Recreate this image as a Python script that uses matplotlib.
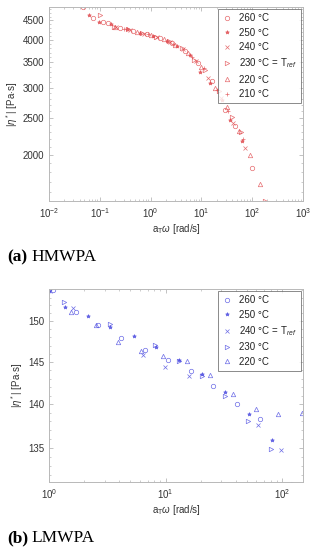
import numpy as np
import matplotlib
matplotlib.use('Agg')
import matplotlib.pyplot as plt
from matplotlib.ticker import FixedLocator, NullFormatter, LogLocator

plt.rcParams['font.family'] = ['Liberation Sans', 'DejaVu Sans']
plt.rcParams['mathtext.fontset'] = 'custom'
plt.rcParams['mathtext.rm'] = 'Liberation Sans'
plt.rcParams['mathtext.it'] = 'Liberation Sans:italic'

# --- (a) HMWPA ---
hm_labels = ['260 °C', '250 °C', '240 °C', '230 °C = T$_{ref}$', '220 °C', '210 °C']
hm_markers = ['o', '*', 'x', '>', '^', '+']
hm_x = [
    [0.047, 0.074, 0.117, 0.147, 0.25, 0.46, 0.84, 1.5, 2.6, 4.8, 8.7, 16, 29, 46, 98],
    [0.06, 0.096, 0.17, 0.34, 0.62, 1.13, 2.1, 3.3, 6, 9.3, 14.8, 25.2, 36.6, 62],
    [0.21, 0.4, 0.75, 1.35, 2.4, 4.3, 7.7, 13.5, 24, 42, 73],
    [0.1, 0.19, 0.36, 0.68, 1.25, 2.3, 4.2, 7.3, 12, 22.5, 40, 60, 177],
    [0.2, 0.55, 1.0, 1.8, 3.0, 5.5, 10, 18.5, 31.5, 55.8, 91, 142],
    [0.3, 0.9, 2.8, 6.5, 11, 20, 34, 65],
]
hm_y = [
    [4870, 4560, 4440, 4435, 4290, 4225, 4140, 4045, 3925, 3735, 3480, 3115, 2620, 2375, 1854],
    [4650, 4440, 4385, 4262, 4175, 4095, 3980, 3850, 3640, 3285, 3080, 2785, 2470, 2169],
    [4310, 4240, 4150, 4060, 3950, 3790, 3520, 3180, 2820, 2430, 2082],
    [4630, 4330, 4255, 4165, 4075, 3960, 3800, 3545, 3330, 2930, 2510, 2290, 1520],
    [4316, 4200, 4115, 4010, 3880, 3690, 3405, 2990, 2676, 2315, 2000, 1680],
    [4275, 4130, 3900, 3600, 3370, 2950, 2600, 2200],
]

# --- (b) LMWPA ---
lm_labels = ['260 °C', '250 °C', '240 °C = T$_{ref}$', '230 °C', '220 °C']
lm_markers = ['o', '*', 'x', '>', '^']
lm_x = [
    [1.08, 1.69, 2.64, 4.18, 6.62, 10.4, 16.4, 25.4, 40.6, 64.5],
    [1.0, 1.37, 2.14, 3.37, 5.33, 8.3, 13.0, 20.5, 32.5, 51.5, 81.7],
    [1.02, 1.61, 6.4, 9.9, 15.8, 61.5, 97.7],
    [1.35, 3.37, 8.1, 13.0, 20.5, 32.5, 51.2, 81, 125],
    [1.56, 2.51, 3.91, 6.2, 9.6, 15.3, 24.0, 37.6, 59.5, 93, 147],
]
lm_y = [
    [154.0, 151.2, 149.5, 147.9, 146.5, 145.3, 143.9, 142.1, 140.0, 138.3],
    [153.9, 151.8, 150.7, 149.3, 148.2, 146.8, 145.2, 143.6, 141.4, 138.9, 135.9],
    [153.8, 151.7, 145.9, 144.4, 143.3, 137.6, 134.8],
    [152.5, 149.7, 147.1, 145.1, 143.3, 141.0, 138.0, 134.9, 131.0],
    [151.2, 149.5, 147.5, 146.3, 145.7, 145.1, 143.5, 141.2, 139.4, 138.8, 139.0],
]

frame_col = '#b8b8b8'
text_col = '#333333'


def style_axes(ax):
    for s in ax.spines.values():
        s.set_color(frame_col)
        s.set_linewidth(0.7)
    ax.tick_params(which='both', direction='in', top=True, right=True,
                   colors=frame_col, labelcolor=text_col, labelsize=7)
    ax.tick_params(which='major', length=3, width=0.6)
    ax.tick_params(which='minor', length=1.6, width=0.5)


def draw(ax, xs, ys, markers, labels, color, ms):
    for x, y, m, lab in zip(xs, ys, markers, labels):
        size = ms - 0.4 if m == '*' else ms
        ax.plot(x, y, linestyle='none', marker=m, markersize=size,
                markerfacecolor=color if m == '*' else 'none',
                markeredgecolor=color, markeredgewidth=0.5, color=color,
                label=lab, alpha=0.8)
    leg = ax.legend(loc='upper right', fontsize=7, frameon=True, fancybox=False,
                    edgecolor='#555555', borderaxespad=0.25, handletextpad=0.6,
                    labelspacing=0.45, borderpad=0.4, handlelength=1.2)
    leg.get_frame().set_linewidth(0.6)
    for t in leg.get_texts():
        t.set_color('#222222')


fig = plt.figure(figsize=(3.14, 5.5), dpi=100)

# top panel
ax1 = fig.add_axes([0.156, 0.6345, 0.809, 0.3527])
draw(ax1, hm_x, hm_y, hm_markers, hm_labels, '#e0484c', 3.2)
ax1.set_xscale('log')
ax1.set_yscale('log')
ax1.set_xlim(1e-2, 1e3)
ax1.set_ylim(1516, 4870)
ax1.yaxis.set_major_locator(FixedLocator([2000, 2500, 3000, 3500, 4000, 4500]))
ax1.yaxis.set_minor_locator(FixedLocator(np.arange(1600, 4900, 100)))
ax1.yaxis.set_major_formatter(matplotlib.ticker.FuncFormatter(lambda v, p: '%d' % v))
ax1.yaxis.set_minor_formatter(NullFormatter())
ax1.xaxis.set_major_locator(LogLocator(base=10, numticks=10))
ax1.xaxis.set_minor_locator(LogLocator(base=10, subs=np.arange(2, 10), numticks=20))
style_axes(ax1)
ax1.set_xlabel(r'a$_\mathrm{T}\omega$ [rad/s]', fontsize=7, color=text_col, labelpad=2)
ax1.set_ylabel(r'|$\eta^*$| [Pa$\cdot$s]', fontsize=7, color=text_col, labelpad=2)

# bottom panel
ax2 = fig.add_axes([0.156, 0.1236, 0.809, 0.3509])
draw(ax2, lm_x, lm_y, lm_markers, lm_labels, '#4848e0', 3.2)
ax2.set_xscale('log')
ax2.set_yscale('log')
ax2.set_xlim(1, 151)
ax2.set_ylim(131.2, 154.1)
ax2.yaxis.set_major_locator(FixedLocator([135, 140, 145, 150]))
ax2.yaxis.set_minor_locator(FixedLocator(np.arange(132, 155, 1)))
ax2.yaxis.set_major_formatter(matplotlib.ticker.FuncFormatter(lambda v, p: '%d' % v))
ax2.yaxis.set_minor_formatter(NullFormatter())
ax2.xaxis.set_major_locator(LogLocator(base=10, numticks=10))
ax2.xaxis.set_minor_locator(LogLocator(base=10, subs=np.arange(2, 10), numticks=20))
ax2.xaxis.set_minor_formatter(NullFormatter())
style_axes(ax2)
ax2.set_xlabel(r'a$_\mathrm{T}\omega$ [rad/s]', fontsize=7, color=text_col, labelpad=2)
ax2.set_ylabel(r'|$\eta^*$| [Pa$\cdot$s]', fontsize=7, color=text_col, labelpad=2)

# captions
cap = dict(fontsize=12.5, family='Liberation Serif', color='black', va='center')
fig.text(0.022, 1 - 257 / 550, '(a)', fontweight='bold', **cap)
fig.text(0.1, 1 - 257 / 550, 'HMWPA', **cap)
fig.text(0.022, 1 - 538 / 550, '(b)', fontweight='bold', **cap)
fig.text(0.1, 1 - 538 / 550, 'LMWPA', **cap)

fig.savefig('out.png', dpi=100)
